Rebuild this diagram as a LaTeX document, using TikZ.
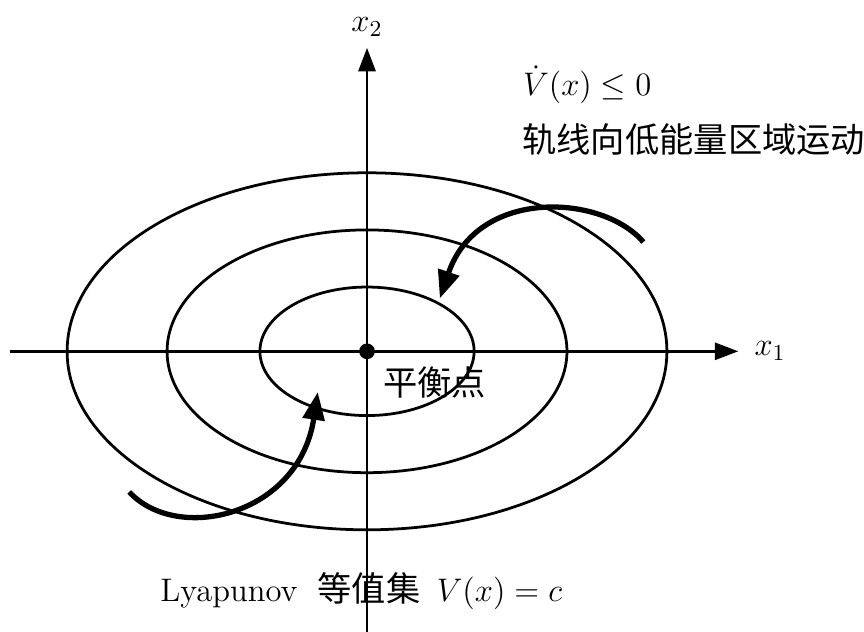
\RequirePackage{fix-cm}
\documentclass[tikz,border=0pt]{standalone}
\usepackage{fontspec}
\newfontfamily\cjk[Scale=1.05]{Noto Sans CJK SC}
\usetikzlibrary{arrows.meta}
\tikzset{
  axisline/.style={line width=1.1pt, -{Triangle[length=3.3mm,width=2.4mm]}},
  levelset/.style={line width=1.1pt},
  flowarrow/.style={line width=2.1pt, -{Triangle[length=3.9mm,width=3mm]}},
  lbl/.style={inner sep=0pt, font=\fontsize{13}{16}\selectfont},
}
\begin{document}
\begin{tikzpicture}
\useasboundingbox (-5.14,-3.92) rectangle (6.96,4.92);
% coordinates
\coordinate (O) at (0,0);
\coordinate (xL) at (-5,0);
\coordinate (xR) at (5.2,0);
\coordinate (yB) at (0,-3.95);
\coordinate (yT) at (0,4.25);
% level sets
\draw[levelset] (O) ellipse [x radius=1.5, y radius=0.9];
\draw[levelset] (O) ellipse [x radius=2.8, y radius=1.7];
\draw[levelset] (O) ellipse [x radius=4.2, y radius=2.5];
% axes
\draw[axisline] (xL) -- (xR);
\draw[axisline] (yB) -- (yT);
\node[lbl, anchor=west] (lx1) at ([xshift=0.22cm]xR) {$x_1$};
\node[lbl, anchor=south] (lx2) at ([yshift=0.15cm]yT) {$x_2$};
% equilibrium
\fill (O) circle (0.11);
\node[lbl, anchor=base west] (eq) at (0.22,-0.62) {\cjk 平衡点};
% trajectories
\coordinate (a1s) at (3.87,1.53);
\coordinate (a1e) at (1.02,0.74);
\coordinate (a2s) at (-3.33,-1.97);
\coordinate (a2e) at (-0.69,-0.57);
\draw[flowarrow] (a1s) .. controls (3.3,2.2) and (1.55,2.3) .. (a1e);
\draw[flowarrow] (a2s) .. controls (-2.65,-2.7) and (-0.95,-2.3) .. (a2e);
% annotations
\node[lbl, anchor=base west] (vdot) at (2.18,3.58) {$\dot V(x)\le 0$};
\node[lbl, anchor=base west] (desc) at (2.17,2.79) {\cjk 轨线向低能量区域运动};
\node[lbl, anchor=base west] (lyap) at (-2.9,-3.5) {Lyapunov\hspace{8pt}{\cjk 等值集}\hspace{6.5pt}$V(x)=c$};
\end{tikzpicture}
\end{document}
